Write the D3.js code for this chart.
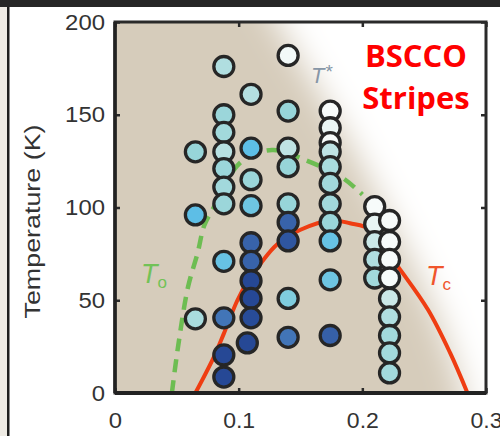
<!DOCTYPE html>
<html>
<head>
<meta charset="utf-8">
<script src="https://cdn.jsdelivr.net/npm/d3@7"></script>
<style>
  html, body { margin: 0; padding: 0; background: #ffffff; }
  svg { display: block; }
</style>
</head>
<body>
<svg id="chart" width="500" height="436"></svg>
<script>
// ---------------- data ----------------
// hole doping p, temperature T (K), shade (0 = white ... 1 = dark blue)
const dotP = [
  0.065, 0.065, 0.065,
  0.088, 0.088, 0.088, 0.088, 0.088, 0.088, 0.088, 0.088, 0.088, 0.088, 0.088,
  0.110, 0.110, 0.110, 0.110, 0.110, 0.110, 0.110, 0.110, 0.110, 0.107,
  0.140, 0.140, 0.140, 0.140, 0.140, 0.140, 0.140, 0.140, 0.140,
  0.174, 0.174, 0.174, 0.174, 0.174, 0.174, 0.174, 0.174, 0.174, 0.174, 0.174,
  0.210, 0.210, 0.210, 0.210, 0.210,
  0.222, 0.222, 0.222, 0.222, 0.222, 0.222, 0.222, 0.222, 0.222
];
const dotT = [
  130, 96, 40,
  176, 150, 140.5, 130, 121, 111, 102, 71, 40.5, 20.5, 8.6,
  161, 132, 115, 101, 81, 71, 60.5, 51, 40.5, 27,
  182, 152, 132, 122, 102, 92, 82, 51, 30,
  152, 143, 135, 130, 122, 113, 102, 92, 82, 61, 31,
  100.5, 91, 81.6, 72, 62,
  93, 81.6, 72, 62, 51, 41, 31, 21.6, 10.8
];
const dotShade = [
  0.33, 0.50, 0.28,
  0.26, 0.32, 0.30, 0.24, 0.32, 0.30, 0.32, 0.47, 0.68, 0.92, 0.92,
  0.25, 0.50, 0.32, 0.45, 0.76, 0.76, 0.92, 0.92, 0.90, 0.92,
  0.02, 0.33, 0.22, 0.33, 0.33, 0.76, 0.84, 0.40, 0.68,
  0.00, 0.05, 0.00, 0.22, 0.28, 0.30, 0.30, 0.32, 0.47, 0.45, 0.78,
  0.00, 0.06, 0.18, 0.26, 0.30,
  0.00, 0.00, 0.00, 0.00, 0.18, 0.26, 0.30, 0.30, 0.30
];

// Tc dome (red)
const tcP = [0.065, 0.080, 0.088, 0.099, 0.108, 0.118, 0.131, 0.150, 0.175, 0.190, 0.207, 0.229, 0.253, 0.271, 0.285];
const tcT = [0, 19.5, 32, 50, 61, 70, 80, 88, 93, 91.5, 88, 68, 45, 21.6, 0];

// To / T* line (green dashed)
const toP = [0.046, 0.051, 0.059, 0.067, 0.072, 0.079, 0.101, 0.127, 0.156, 0.184, 0.200];
const toT = [0, 25, 57, 76, 90, 99, 124, 131, 125, 116, 107];

const xTicks = [0, 0.1, 0.2, 0.3];
const yTicks = [0, 50, 100, 150, 200];
const xTickLabels = ["0", "0.1", "0.2", "0.3"];
const yLabel = "Temperature (K)";
const titleLines = ["BSCCO", "Stripes"];

// ---------------- drawing ----------------
const svg = d3.select("#chart");
const x = d3.scaleLinear().domain([0, 0.3]).range([115, 486]);
const y = d3.scaleLinear().domain([0, 200]).range([393, 22]);
const shadeColor = d3.scaleLinear()
  .domain([0, 0.2, 0.33, 0.5, 0.7, 1])
  .range(["#f7fbfa", "#c6e6e6", "#97d5d9", "#5dbee6", "#3f6db2", "#1d3b8b"]);

const defs = svg.append("defs");
defs.append("clipPath").attr("id", "plotClip")
  .append("rect").attr("x", x(0)).attr("y", y(200))
  .attr("width", x(0.3) - x(0)).attr("height", y(0) - y(200));
const blur = defs.append("filter").attr("id", "soft")
  .attr("x", "-50%").attr("y", "-50%").attr("width", "200%").attr("height", "200%");
blur.append("feGaussianBlur").attr("stdDeviation", 16);

// page decorations
svg.append("rect").attr("x", 0).attr("y", 0).attr("width", 500).attr("height", 7).attr("fill", "#262626");
svg.append("rect").attr("x", 0).attr("y", 7).attr("width", 7).attr("height", 429).attr("fill", "#eeebe4");
svg.append("rect").attr("x", 7).attr("y", 7).attr("width", 2.5).attr("height", 429).attr("fill", "#1e1e1e");

// plot background
const plot = svg.append("g").attr("clip-path", "url(#plotClip)");
plot.append("rect").attr("x", x(0)).attr("y", y(200))
  .attr("width", x(0.3) - x(0)).attr("height", y(0) - y(200)).attr("fill", "#d6ccbb");
plot.append("path")
  .attr("d", "M258,-10 L288,40 L318,90 L348,140 L380,200 L412,262 L440,322 L460,380 L472,440 L540,440 L540,-10 Z")
  .attr("fill", "#ffffff").attr("filter", "url(#soft)");

// lines
const line = d3.line().x(d => x(d[0])).y(d => y(d[1])).curve(d3.curveCatmullRom.alpha(0.5));
plot.append("path")
  .datum(toP.map((p, i) => [p, toT[i]]))
  .attr("d", line).attr("fill", "none")
  .attr("stroke", "#6dbd52").attr("stroke-width", 4.5)
  .attr("stroke-dasharray", "13,8");
plot.append("path")
  .datum(tcP.map((p, i) => [p, tcT[i]]))
  .attr("d", line).attr("fill", "none")
  .attr("stroke", "#ef3d12").attr("stroke-width", 4);

// dots
const dots = dotP.map((p, i) => ({p, t: dotT[i], s: dotShade[i]}));
plot.selectAll("circle.dot").data(dots).enter().append("circle")
  .attr("class", "dot")
  .attr("cx", d => x(d.p)).attr("cy", d => y(d.t)).attr("r", 10)
  .attr("fill", d => shadeColor(d.s))
  .attr("stroke", "#262626").attr("stroke-width", 3.3);

// axes
const axisFont = "'Liberation Sans', Arial, Helvetica, sans-serif";
const gl = svg.append("g").attr("transform", `translate(${x(0)},0)`)
  .call(d3.axisLeft(y).tickValues(yTicks).tickSize(-5).tickPadding(10));
const gb = svg.append("g").attr("transform", `translate(0,${y(0)})`)
  .call(d3.axisBottom(x).tickValues(xTicks).tickFormat((d, i) => xTickLabels[i]).tickSize(-5).tickPadding(19));
const gr = svg.append("g").attr("transform", `translate(${x(0.3)},0)`)
  .call(d3.axisRight(y).tickValues(yTicks).tickSize(-5).tickFormat(""));
const gt = svg.append("g").attr("transform", `translate(0,${y(200)})`)
  .call(d3.axisTop(x).tickValues(xTicks).tickSize(-5).tickFormat(""));
[gl, gb, gr, gt].forEach(g => {
  g.select(".domain").remove();
  g.selectAll(".tick line").attr("stroke", "#2a2a2a").attr("stroke-width", 2.5);
  g.selectAll(".tick text").attr("fill", "#333333").attr("font-size", 22).attr("font-family", axisFont);
});
gl.selectAll(".tick text").attr("textLength", d => String(d).length * 13.3).attr("lengthAdjust", "spacingAndGlyphs");
gb.selectAll(".tick text").attr("textLength", (d, i) => xTickLabels[i].length === 1 ? 13.3 : 32).attr("lengthAdjust", "spacingAndGlyphs");

// frame
svg.append("rect").attr("x", x(0)).attr("y", y(200))
  .attr("width", x(0.3) - x(0)).attr("height", y(0) - y(200))
  .attr("fill", "none").attr("stroke", "#2a2a2a").attr("stroke-width", 3);
svg.append("line").attr("x1", x(0)).attr("x2", x(0.3)).attr("y1", y(0)).attr("y2", y(0))
  .attr("stroke", "#222").attr("stroke-width", 4);
svg.append("line").attr("x1", x(0)).attr("x2", x(0)).attr("y1", y(200)).attr("y2", y(0))
  .attr("stroke", "#222").attr("stroke-width", 3.5);

// y label
svg.append("text")
  .attr("transform", `translate(40,${(y(0) + y(200)) / 2 + 14}) rotate(-90)`)
  .attr("text-anchor", "middle")
  .attr("font-family", axisFont).attr("font-size", 22).attr("fill", "#333333")
  .attr("textLength", 194).attr("lengthAdjust", "spacingAndGlyphs")
  .text(yLabel);

// curve annotations
const tStar = svg.append("text").attr("x", 311).attr("y", 83)
  .attr("font-family", axisFont).attr("font-size", 22).attr("font-style", "italic").attr("fill", "#8796a6");
tStar.append("tspan").text("T");
tStar.append("tspan").attr("font-size", 19).attr("font-style", "normal").attr("dx", 1).attr("dy", -5).text("*");

const tO = svg.append("text").attr("x", 141).attr("y", 283)
  .attr("font-family", axisFont).attr("font-size", 27).attr("fill", "#72c257");
tO.append("tspan").attr("font-style", "italic").text("T");
tO.append("tspan").attr("font-size", 17).attr("dy", 5).text("o");

const tC = svg.append("text").attr("x", 426).attr("y", 285)
  .attr("font-family", axisFont).attr("font-size", 27).attr("fill", "#f0552c");
tC.append("tspan").attr("font-style", "italic").text("T");
tC.append("tspan").attr("font-size", 17).attr("dy", 5).text("c");

// title
svg.append("text").attr("x", 416).attr("y", 67).attr("text-anchor", "middle")
  .attr("font-family", "'Open Sans', sans-serif").attr("font-weight", "bold")
  .attr("font-size", 31).attr("fill", "#ff0000").text(titleLines[0]);
svg.append("text").attr("x", 416).attr("y", 109).attr("text-anchor", "middle")
  .attr("font-family", "'Open Sans', sans-serif").attr("font-weight", "bold")
  .attr("font-size", 31).attr("fill", "#ff0000").text(titleLines[1]);
</script>
</body>
</html>
